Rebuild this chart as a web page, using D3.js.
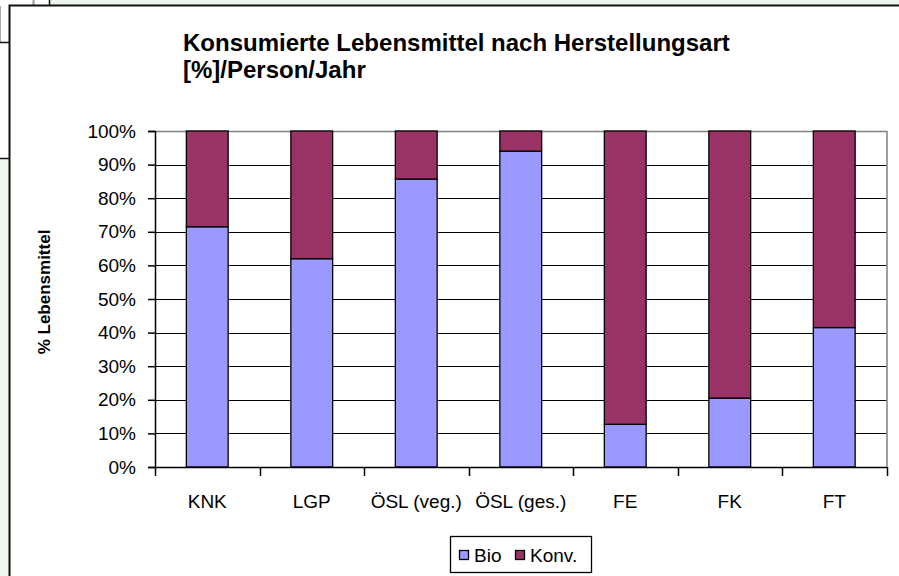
<!DOCTYPE html>
<html>
<head>
<meta charset="utf-8">
<script src="https://cdn.jsdelivr.net/npm/d3@7"></script>
<style>
  body { margin: 0; background: #fff; }
  svg { display: block; font-family: "Liberation Sans", Arial, sans-serif; }
</style>
</head>
<body>
<svg id="chart" width="899" height="576"></svg>
<script>
// values (% per category)
var categories = ["KNK", "LGP", "ÖSL (veg.)", "ÖSL (ges.)", "FE", "FK", "FT"];
var bio = [71.5, 62, 85.7, 94, 12.7, 20.5, 41.5];
var konv = [28.5, 38, 14.3, 6, 87.3, 79.5, 58.5];
var seriesNames = ["Bio", "Konv."];
var yTicks = [0, 10, 20, 30, 40, 50, 60, 70, 80, 90, 100];

var colours = { "Bio": "#9999ff", "Konv.": "#993366" };

var svg = d3.select("#chart");

// bits of the spreadsheet around the chart object
svg.append("rect").attr("x", 50).attr("y", 0).attr("width", 849).attr("height", 5).attr("fill", "#eaf3ec");
svg.append("rect").attr("x", 0).attr("y", 158).attr("width", 9).attr("height", 418).attr("fill", "#f0f7f1");
svg.append("line").attr("x1", 33.5).attr("x2", 33.5).attr("y1", 0).attr("y2", 5).attr("stroke", "#999").attr("stroke-width", 2);
svg.append("line").attr("x1", 49.5).attr("x2", 49.5).attr("y1", 0).attr("y2", 5).attr("stroke", "#111").attr("stroke-width", 1.5);
svg.append("line").attr("x1", 0.5).attr("x2", 0.5).attr("y1", 6).attr("y2", 42).attr("stroke", "#aaa");
svg.append("line").attr("x1", 0).attr("x2", 10).attr("y1", 42.5).attr("y2", 42.5).attr("stroke", "#111").attr("stroke-width", 1.5);
svg.append("line").attr("x1", 0).attr("x2", 10).attr("y1", 158.5).attr("y2", 158.5).attr("stroke", "#111").attr("stroke-width", 1.5);

// chart frame
svg.append("rect").attr("x", 9.5).attr("y", 5.5).attr("width", 900).attr("height", 600)
  .attr("fill", "#fff").attr("stroke", "#111").attr("stroke-width", 2);

// title
var title = svg.append("text").attr("x", 183).attr("y", 51)
  .attr("font-size", 24).attr("font-weight", "bold").attr("fill", "#000");
title.append("tspan").attr("x", 183).text("Konsumierte Lebensmittel nach Herstellungsart");
title.append("tspan").attr("x", 183).attr("dy", 27).text("[%]/Person/Jahr");

var plotLeft = 155, plotRight = 886.5, plotTop = 131, plotBottom = 467;

var x = d3.scaleBand().domain(categories).range([plotLeft, plotRight]).paddingInner(0.6).paddingOuter(0.3);
var y = d3.scaleLinear().domain([0, 100]).range([plotBottom, plotTop]);

// gridlines
svg.append("g").selectAll("line").data(yTicks.filter(function (t) { return t > 0 && t < 100; }))
  .enter().append("line")
  .attr("x1", plotLeft).attr("x2", plotRight)
  .attr("y1", function (d) { return Math.round(y(d)) + 0.5; })
  .attr("y2", function (d) { return Math.round(y(d)) + 0.5; })
  .attr("stroke", "#000").attr("stroke-width", 1.2);

// plot area border (top / right)
svg.append("path")
  .attr("d", "M" + plotLeft + "," + (plotTop + 0.5) + "H" + (plotRight + 0.5) + "V" + plotBottom)
  .attr("fill", "none").attr("stroke", "#808080").attr("stroke-width", 1.5);

// stacked bars
var rows = categories.map(function (c, i) { return { cat: c, "Bio": bio[i], "Konv.": konv[i] }; });
var stacked = d3.stack().keys(seriesNames)(rows);

svg.append("g").selectAll("g").data(stacked).enter().append("g")
  .attr("fill", function (d) { return colours[d.key]; })
  .selectAll("rect").data(function (d) { return d; }).enter().append("rect")
  .attr("x", function (d) { return x(d.data.cat); })
  .attr("width", x.bandwidth())
  .attr("y", function (d) { return y(d[1]); })
  .attr("height", function (d) { return y(d[0]) - y(d[1]); })
  .attr("stroke", "#000").attr("stroke-width", 1.3);

// y axis
var yAxis = svg.append("g").attr("transform", "translate(" + plotLeft + ",0)")
  .call(d3.axisLeft(y).tickValues(yTicks).tickSize(7).tickPadding(12)
    .tickFormat(function (d) { return d + "%"; }));
yAxis.select(".domain").attr("stroke", "#000").attr("stroke-width", 1.5);
yAxis.selectAll(".tick line").attr("stroke", "#000").attr("stroke-width", 1.5);
yAxis.selectAll("text").attr("font-size", 19).attr("font-family", "Liberation Sans, Arial, sans-serif").attr("fill", "#000");

// x axis: line plus ticks between categories
var xAxisG = svg.append("g");
xAxisG.append("line").attr("x1", plotLeft).attr("x2", plotRight + 0.5).attr("y1", plotBottom + 0.5).attr("y2", plotBottom + 0.5)
  .attr("stroke", "#000").attr("stroke-width", 1.5);
var bounds = d3.range(categories.length + 1).map(function (i) { return plotLeft + i * (plotRight - plotLeft) / categories.length; });
xAxisG.selectAll(".xt").data(bounds).enter().append("line")
  .attr("x1", function (d) { return Math.round(d) + 0.5; })
  .attr("x2", function (d) { return Math.round(d) + 0.5; })
  .attr("y1", plotBottom).attr("y2", plotBottom + 9)
  .attr("stroke", "#000").attr("stroke-width", 1.5);
xAxisG.selectAll(".xl").data(categories).enter().append("text")
  .attr("x", function (d) { return x(d) + x.bandwidth() / 2; })
  .attr("y", 508)
  .attr("text-anchor", "middle").attr("font-size", 19).attr("fill", "#000")
  .text(function (d) { return d; });

// y axis title
svg.append("text").attr("transform", "translate(50,292) rotate(-90)")
  .attr("text-anchor", "middle").attr("font-size", 17).attr("font-weight", "bold")
  .text("% Lebensmittel");

// legend
var legend = svg.append("g");
legend.append("rect").attr("x", 450.5).attr("y", 536.5).attr("width", 141).attr("height", 36)
  .attr("fill", "#fff").attr("stroke", "#000").attr("stroke-width", 1.3);
var legendX = [459, 515];
var items = legend.selectAll(".item").data(seriesNames).enter().append("g")
  .attr("transform", function (d, i) { return "translate(" + legendX[i] + ",0)"; });
items.append("rect").attr("x", 0.5).attr("y", 550.5).attr("width", 9).attr("height", 9)
  .attr("fill", function (d) { return colours[d]; }).attr("stroke", "#000").attr("stroke-width", 1.3);
items.append("text").attr("x", 15).attr("y", 562).attr("font-size", 19).text(function (d) { return d; });
</script>
</body>
</html>
